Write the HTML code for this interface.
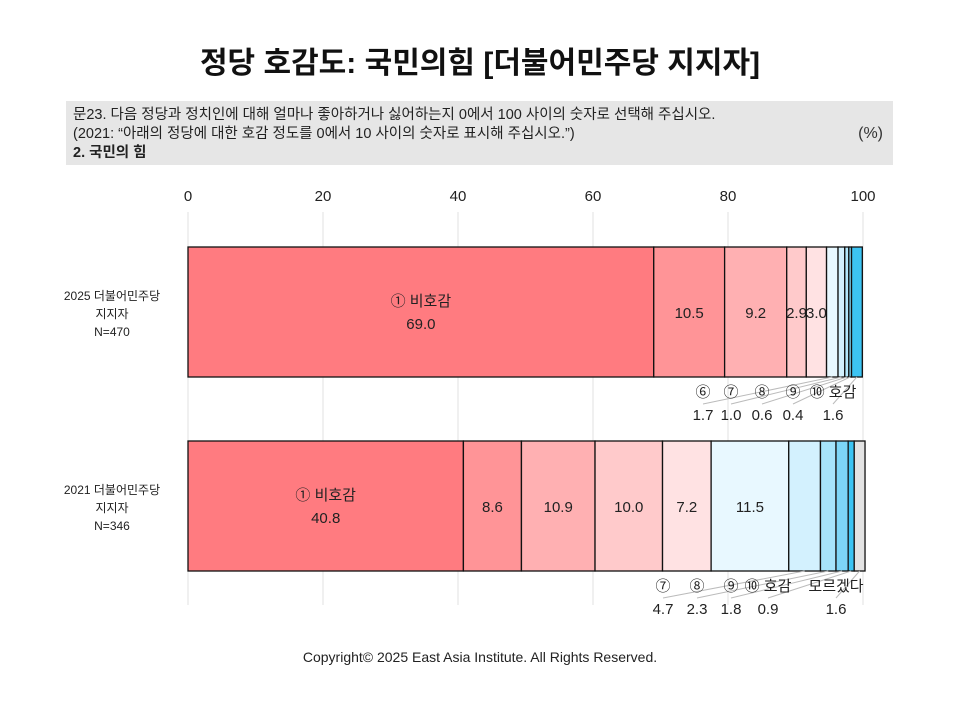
<!DOCTYPE html>
<html><head><meta charset="utf-8">
<style>
body{margin:0;background:#fff;font-family:"Liberation Sans","Noto Sans CJK KR",sans-serif;}
#wrap{position:relative;width:960px;height:720px;overflow:hidden;}
svg text{font-family:"Liberation Sans","Noto Sans CJK KR",sans-serif;}
</style></head>
<body>
<div id="wrap">
<svg id="chart" width="960" height="720">
  <text x="480" y="73" text-anchor="middle" font-size="30" font-weight="bold" fill="#111">정당 호감도: 국민의힘 [더불어민주당 지지자]</text>
  <rect x="66" y="101" width="827" height="64" fill="#e6e6e6"/>
  <text x="73" y="119" font-size="14.5" fill="#222">문23. 다음 정당과 정치인에 대해 얼마나 좋아하거나 싫어하는지 0에서 100 사이의 숫자로 선택해 주십시오.</text>
  <text x="73" y="138" font-size="14.5" fill="#222">(2021: “아래의 정당에 대한 호감 정도를 0에서 10 사이의 숫자로 표시해 주십시오.”)</text>
  <text x="73" y="157" font-size="14.5" font-weight="bold" fill="#222">2. 국민의 힘</text>
  <text x="883" y="138" text-anchor="end" font-size="16" fill="#333">(%)</text>
  <g id="grid"></g>
  <g id="bars"></g>
  <text x="480" y="662" text-anchor="middle" font-size="14" fill="#222">Copyright© 2025 East Asia Institute. All Rights Reserved.</text>
</svg>
</div>
<script>
const ticks = [0,20,40,60,80,100];
const rowLabels = [["2025 더불어민주당","지지자","N=470"],["2021 더불어민주당","지지자","N=346"]];
const values2025 = [69.0,10.5,9.2,2.9,3.0,1.7,1.0,0.6,0.4,1.6];
const values2021 = [40.8,8.6,10.9,10.0,7.2,11.5,4.7,2.3,1.8,0.9,1.6];
const cats2025 = ["① 비호감","","","","","⑥","⑦","⑧","⑨","⑩ 호감"];
const cats2021 = ["① 비호감","","","","","","⑦","⑧","⑨","⑩ 호감","모르겠다"];
const colors2025 = ["#ff7b80","#ff9497","#ffb0b2","#ffcacb","#ffe2e3","#e8f8ff","#d3f1fe","#b3e8fc","#86d9f8","#3cc4f3"];
const colors2021 = ["#ff7b80","#ff9497","#ffb0b2","#ffcacb","#ffe2e3","#e8f8ff","#d3f1fe","#a6e4fb","#7dd6f7","#3cc4f3","#e3e3e3"];
const outside2025 = [null,null,null,null,null,703,731,762,793,833];
const outside2021 = [null,null,null,null,null,null,663,697,731,768,836];

const NS="http://www.w3.org/2000/svg";
const X0=188, X1=863;
const xs = v => X0 + (X1-X0)*v/100;
function mk(tag, attrs, parent){const e=document.createElementNS(NS,tag);for(const k in attrs)e.setAttribute(k,attrs[k]);parent.appendChild(e);return e;}
const grid=document.getElementById('grid'), bars=document.getElementById('bars');
ticks.forEach(t=>{
  const l=mk('line',{x1:xs(t),x2:xs(t),y1:212,y2:605,stroke:'#e2e2e2','stroke-width':1},grid);
  
  
  const tx=mk('text',{x:xs(t),y:201,'text-anchor':'middle','font-size':15,fill:'#222'},grid);
  tx.textContent=t;
  
  
});
function drawRow(vals, cats, cols, outs, y0, label, idx){
  const h=130; let cum=0;
  const g=mk('g',{},bars);
  
  
  label.forEach((s,i)=>{
    const t=mk('text',{x:112,y:y0+h/2-12+i*18,'text-anchor':'middle','font-size':12,fill:'#222'},g);
    t.textContent=s;
    
    
  });
  vals.forEach((v,i)=>{
    const xa=xs(cum), xb=xs(cum+v); cum+=v;
    const r=mk('rect',{x:xa,y:y0,width:xb-xa,height:h,fill:cols[i],stroke:'#111','stroke-width':1.3},g);
    
    
    const cx=(xa+xb)/2;
    if(outs[i]===null){
      if(cats[i]){
        const t1=mk('text',{x:cx,y:y0+h/2-6,'text-anchor':'middle','font-size':15,fill:'#222'},g);
        t1.textContent=cats[i];
        
        
        const t2=mk('text',{x:cx,y:y0+h/2+17,'text-anchor':'middle','font-size':15,fill:'#222'},g);
        t2.textContent=v.toFixed(1);
        
        
      } else {
        const t=mk('text',{x:cx,y:y0+h/2+6,'text-anchor':'middle','font-size':15,fill:'#222'},g);
        t.textContent=v.toFixed(1);
        
        
      }
    } else {
      const ox=outs[i];
      const ln=mk('line',{x1:cx,y1:y0+h,x2:ox,y2:y0+h+27,stroke:'#bbb','stroke-width':1},g);
      
      
      const t1=mk('text',{x:ox,y:y0+h+20,'text-anchor':'middle','font-size':15,fill:'#222'},g);
      t1.textContent=cats[i];
      
      
      const t2=mk('text',{x:ox,y:y0+h+43,'text-anchor':'middle','font-size':15,fill:'#222'},g);
      t2.textContent=v.toFixed(1);
      
      
    }
  });
}
drawRow(values2025,cats2025,colors2025,outside2025,247,rowLabels[0],2025);
drawRow(values2021,cats2021,colors2021,outside2021,441,rowLabels[1],2021);
</script>
</body></html>
